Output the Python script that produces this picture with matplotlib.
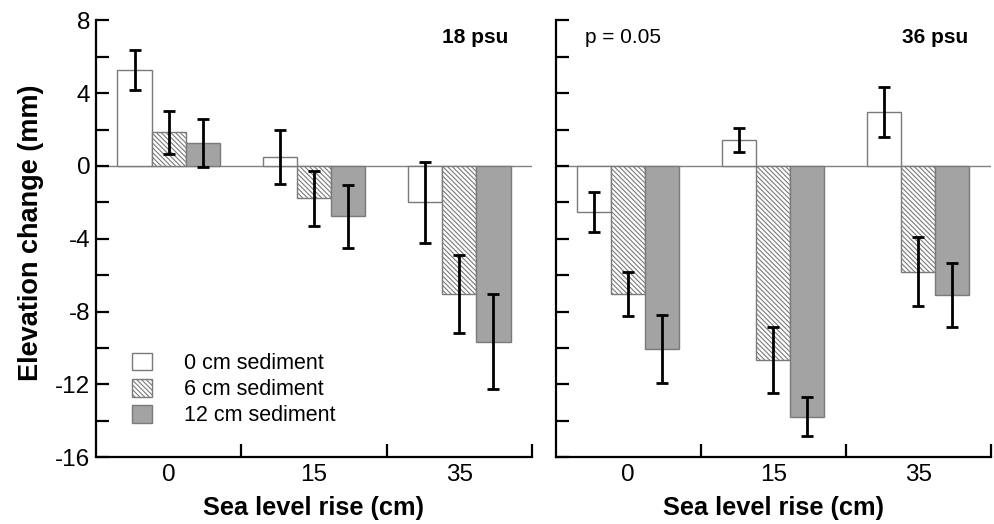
import matplotlib
matplotlib.use("Agg")
import matplotlib.pyplot as plt
import numpy as np

plt.rcParams['font.family'] = ['Liberation Sans', 'DejaVu Sans']
plt.rcParams['hatch.linewidth'] = 0.8

categories = ['0', '15', '35']
series = ['0 cm sediment', '6 cm sediment', '12 cm sediment']

# 18 psu panel
left_means = {
    '0 cm sediment': [5.25, 0.48, -2.0],
    '6 cm sediment': [1.84, -1.78, -7.04],
    '12 cm sediment': [1.27, -2.77, -9.65],
}
left_err = {
    '0 cm sediment': [1.1, 1.47, 2.23],
    '6 cm sediment': [1.2, 1.52, 2.15],
    '12 cm sediment': [1.31, 1.71, 2.6],
}
# 36 psu panel
right_means = {
    '0 cm sediment': [-2.51, 1.45, 2.95],
    '6 cm sediment': [-7.02, -10.66, -5.8],
    '12 cm sediment': [-10.05, -13.78, -7.1],
}
right_err = {
    '0 cm sediment': [1.1, 0.66, 1.38],
    '6 cm sediment': [1.2, 1.8, 1.9],
    '12 cm sediment': [1.85, 1.07, 1.75],
}

panel_titles = ['18 psu', '36 psu']

styles = {
    '0 cm sediment': dict(facecolor='white', hatch=None),
    '6 cm sediment': dict(facecolor='white', hatch='\\' * 7),
    '12 cm sediment': dict(facecolor='#a3a3a3', hatch=None),
}
edge = '#7a7a7a'

fig = plt.figure(figsize=(9.95, 5.24), dpi=100)
H = 524.0
W = 995.0
ax1 = fig.add_axes([96 / W, (H - 457.3) / H, 436 / W, 437 / H])
ax2 = fig.add_axes([555.7 / W, (H - 457.3) / H, 435 / W, 437 / H])

width = 0.235
x = np.arange(len(categories))

for ax, means, errs in [(ax1, left_means, left_err), (ax2, right_means, right_err)]:
    ax.axhline(0, color='#808080', lw=1.0, zorder=0.5)
    for i, s in enumerate(series):
        pos = x + (i - 1) * width
        st = styles[s]
        ax.bar(pos, means[s], width, facecolor=st['facecolor'], hatch=st['hatch'],
               edgecolor=edge, linewidth=1.0, label=s, zorder=2)
        ax.errorbar(pos, means[s], yerr=errs[s], fmt='none', ecolor='black',
                    elinewidth=2.0, capsize=4.2, capthick=2.0, zorder=3)
    ax.set_xlim(-0.5, 2.5)
    ax.set_ylim(-16, 8)
    ax.spines['top'].set_visible(False)
    ax.spines['right'].set_visible(False)
    ax.spines['left'].set_linewidth(1.6)
    ax.spines['bottom'].set_linewidth(1.6)
    ax.set_yticks(np.arange(-16, 9, 2))
    ax.tick_params(axis='y', direction='in', length=9.5, width=1.6, labelsize=17.5, pad=4)
    ax.set_xticks([0.5, 1.5, 2.5])
    ax.set_xticklabels([])
    ax.tick_params(axis='x', which='major', direction='in', length=9.5, width=1.6)
    ax.set_xticks(x, minor=True)
    ax.set_xticklabels(categories, minor=True)
    ax.tick_params(axis='x', which='minor', length=0, labelsize=17.5, pad=5)
    ax.set_xlabel('Sea level rise (cm)', fontsize=18.3, fontweight='bold')
    ax.xaxis.set_label_coords(0.5, -0.088)

ax1.text(0.945, 0.9606, panel_titles[0], transform=ax1.transAxes, ha='right', va='center',
         fontsize=15, fontweight='bold')
ax2.text(0.948, 0.9606, panel_titles[1], transform=ax2.transAxes, ha='right', va='center',
         fontsize=15, fontweight='bold')

ax1.set_yticklabels([str(v) if v % 4 == 0 else '' for v in np.arange(-16, 9, 2)])
ax2.set_yticklabels([])
ax1.set_ylabel('Elevation change (mm)', fontsize=19.5, fontweight='bold')
ax1.yaxis.set_label_coords(-0.12, 0.514)
ax2.text(0.068, 0.96, 'p = 0.05', transform=ax2.transAxes, ha='left', va='center',
         fontsize=15)

ax1.legend(loc='upper left', bbox_to_anchor=(0.082, 0.239), frameon=False, fontsize=15.5,
           borderpad=0, borderaxespad=0, handlelength=0.93, handleheight=0.88,
           handletextpad=1.5, labelspacing=0.23)

fig.savefig('out.png', dpi=100)
